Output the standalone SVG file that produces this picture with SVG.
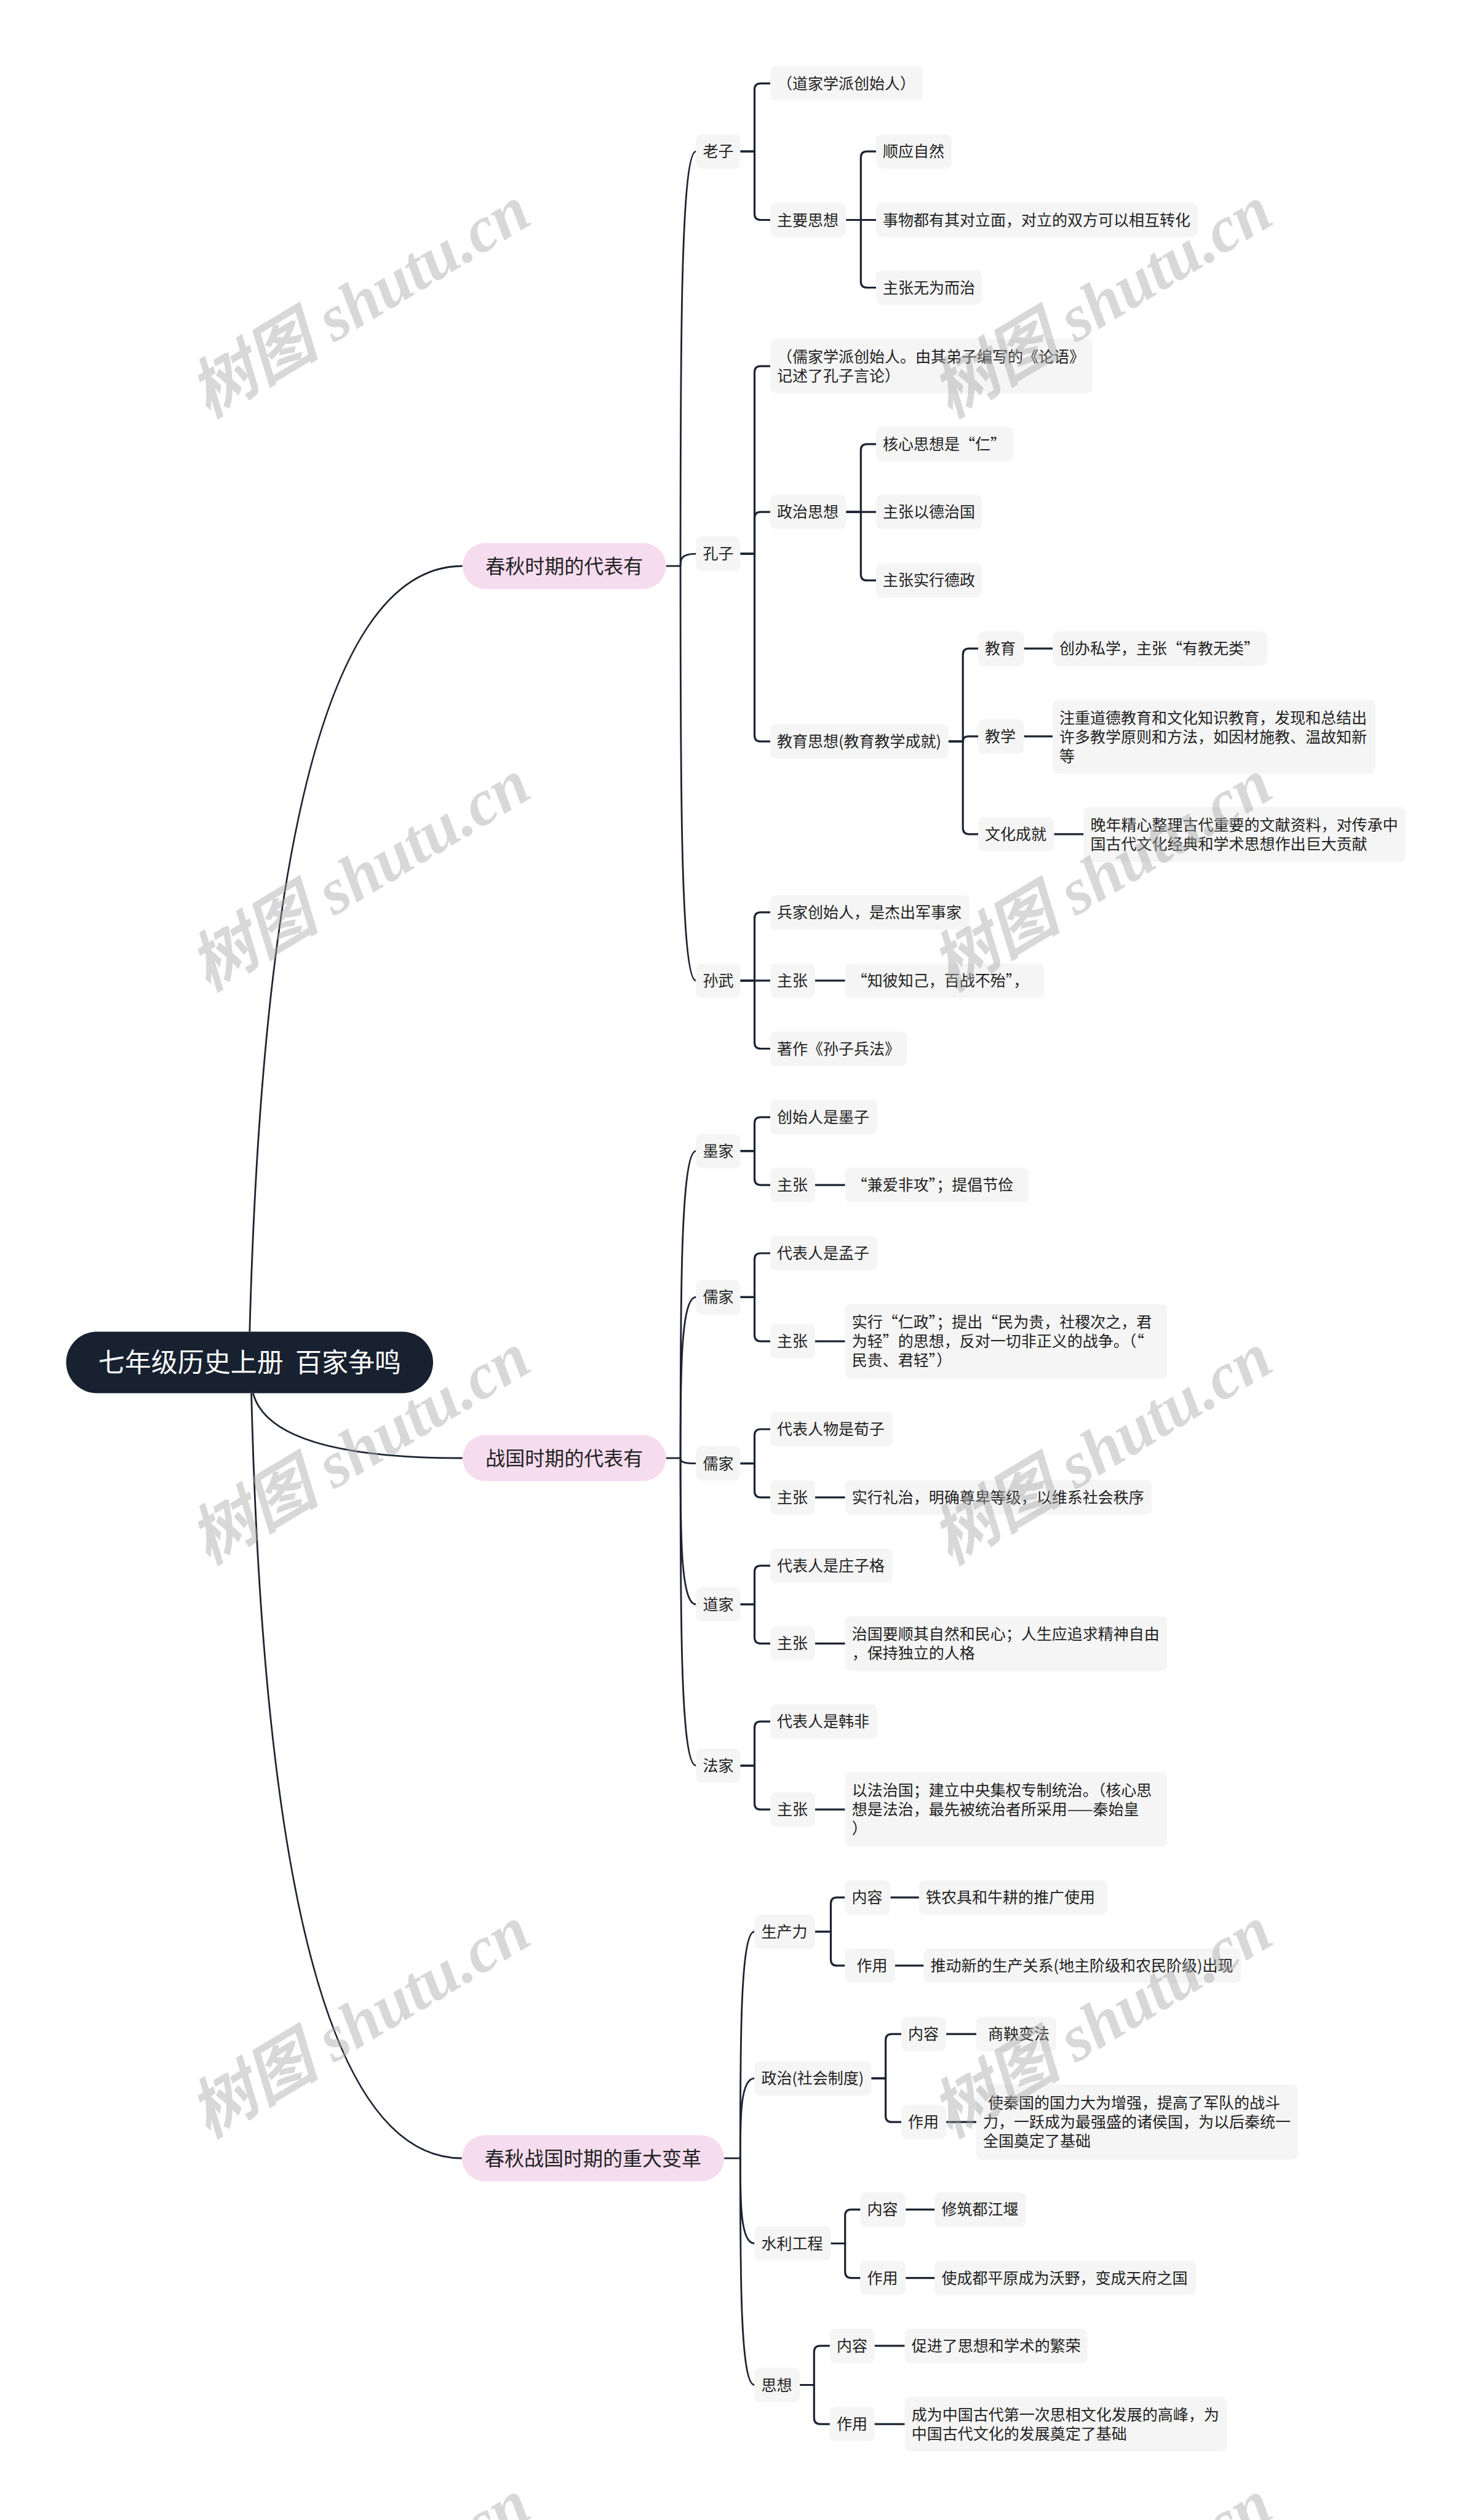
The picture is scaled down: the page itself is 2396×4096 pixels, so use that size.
<svg xmlns="http://www.w3.org/2000/svg" width="2396" height="4096" viewBox="0 0 2396 4096">
<style>
.nd{fill:#f5f5f5}
.tx{font-family:"Noto Sans CJK SC","Noto Sans",sans-serif;font-size:25px;fill:#222}
.l1{fill:#f6dcef}
.t1{font-family:"Noto Sans CJK SC",sans-serif;font-size:32px;fill:#222;text-anchor:middle}
.rt{fill:#18212f}
.t0{font-family:"Noto Sans CJK SC",sans-serif;font-size:43px;fill:#fff;text-anchor:middle}
.cn{fill:none;stroke:#1c2331;stroke-width:3.2}
.cv{fill:none;stroke:#1c2331;stroke-width:2.8}
.wm{font-family:"Liberation Serif","Noto Sans CJK SC",serif;font-style:italic;font-weight:bold;font-size:106px;fill:#a8a8a8;fill-opacity:0.45;text-anchor:middle}
</style>
<rect x="0" y="0" width="2396" height="4096" fill="#fff"/>
<g id="connectors">
<path class="cv" d="M405.8,2164.5 Q439.5,920 751.7,920"/>
<path class="cv" d="M411.4,2264.6 Q439.5,2370 751.7,2370"/>
<path class="cv" d="M408.6,2264.6 Q439.5,3508 750.8,3508"/>
<path class="cv" d="M1082.7,920H1106.1"/>
<path class="cv" d="M1106.1,920 C1106.1,583.2 1106.1,246.2 1131.4,246.2"/>
<path class="cv" d="M1106.1,920 C1106.1,910.1 1106.1,900.1 1131.4,900.1"/>
<path class="cv" d="M1106.1,920 C1106.1,1257 1106.1,1593.9 1131.4,1593.9"/>
<path class="cv" d="M1082.7,2370H1106.1"/>
<path class="cv" d="M1106.1,2370 C1106.1,2120.5 1106.1,1870.9 1131.4,1870.9"/>
<path class="cv" d="M1106.1,2370 C1106.1,2239.2 1106.1,2108.4 1131.4,2108.4"/>
<path class="cv" d="M1106.1,2370 C1106.1,2374.3 1106.1,2378.6 1131.4,2378.6"/>
<path class="cv" d="M1106.1,2370 C1106.1,2488.9 1106.1,2607.7 1131.4,2607.7"/>
<path class="cv" d="M1106.1,2370 C1106.1,2619.9 1106.1,2869.8 1131.4,2869.8"/>
<path class="cv" d="M1177.2,3508H1203.3"/>
<path class="cv" d="M1203.3,3508 C1203.3,3323.9 1203.3,3139.7 1226.4,3139.7"/>
<path class="cv" d="M1203.3,3508 C1203.3,3443.1 1203.3,3378.2 1226.4,3378.2"/>
<path class="cv" d="M1203.3,3508 C1203.3,3577.3 1203.3,3646.5 1226.4,3646.5"/>
<path class="cv" d="M1203.3,3508 C1203.3,3692.3 1203.3,3876.5 1226.4,3876.5"/>

<path class="cn" d="M1203.3,246.2H1226.5V145.6Q1226.5,135.6 1236.5,135.6H1252"/>
<path class="cn" d="M1203.3,246.2H1226.5V347.5Q1226.5,357.5 1236.5,357.5H1252"/>
<path class="cn" d="M1375.3,357.5H1399.3V256.2Q1399.3,246.2 1409.3,246.2H1424.1"/>
<path class="cn" d="M1375.3,357.5H1424.1"/>
<path class="cn" d="M1375.3,357.5H1399.3V457.5Q1399.3,467.5 1409.3,467.5H1424.1"/>

<path class="cn" d="M1203.3,900.1H1226.5V605.1Q1226.5,595.1 1236.5,595.1H1252"/>
<path class="cn" d="M1203.3,900.1H1226.5V842.2Q1226.5,832.2 1236.5,832.2H1252"/>
<path class="cn" d="M1203.3,900.1H1226.5V1195.2Q1226.5,1205.2 1236.5,1205.2H1252"/>
<path class="cn" d="M1375.3,832.2H1399.3V731.8Q1399.3,721.8 1409.3,721.8H1424.1"/>
<path class="cn" d="M1375.3,832.2H1424.1"/>
<path class="cn" d="M1375.3,832.2H1399.3V933.4Q1399.3,943.4 1409.3,943.4H1424.1"/>
<path class="cn" d="M1541.8,1205.2H1565.2V1064.2Q1565.2,1054.2 1575.2,1054.2H1590.1"/>
<path class="cn" d="M1541.8,1205.2H1565.2Q1565.2,1196.8 1573.6,1196.8H1590.1"/>
<path class="cn" d="M1541.8,1205.2H1565.2V1345.8Q1565.2,1355.8 1575.2,1355.8H1590.1"/>
<path class="cn" d="M1664.5,1054.2H1711.1"/>
<path class="cn" d="M1664.5,1196.8H1711.1"/>
<path class="cn" d="M1713.3,1355.8H1761.4"/>

<path class="cn" d="M1203.3,1593.9H1226.5V1492.9Q1226.5,1482.9 1236.5,1482.9H1252"/>
<path class="cn" d="M1203.3,1593.9H1252"/>
<path class="cn" d="M1203.3,1593.9H1226.5V1694.5Q1226.5,1704.5 1236.5,1704.5H1252"/>
<path class="cn" d="M1324.9,1593.9H1373.7"/>

<path class="cn" d="M1203.3,1870.9H1226.5V1825.8Q1226.5,1815.8 1236.5,1815.8H1252"/>
<path class="cn" d="M1203.3,1870.9H1226.5V1916.1Q1226.5,1926.1 1236.5,1926.1H1252"/>
<path class="cn" d="M1324.9,1926.1H1373.7"/>
<path class="cn" d="M1203.3,2108.4H1226.5V2047Q1226.5,2037 1236.5,2037H1252"/>
<path class="cn" d="M1203.3,2108.4H1226.5V2170.1Q1226.5,2180.1 1236.5,2180.1H1252"/>
<path class="cn" d="M1324.9,2180.1H1373.7"/>
<path class="cn" d="M1203.3,2378.6H1226.5V2333Q1226.5,2323 1236.5,2323H1252"/>
<path class="cn" d="M1203.3,2378.6H1226.5V2423.8Q1226.5,2433.8 1236.5,2433.8H1252"/>
<path class="cn" d="M1324.9,2433.8H1373.7"/>
<path class="cn" d="M1203.3,2607.7H1226.5V2554.8Q1226.5,2544.8 1236.5,2544.8H1252"/>
<path class="cn" d="M1203.3,2607.7H1226.5V2661.3Q1226.5,2671.3 1236.5,2671.3H1252"/>
<path class="cn" d="M1324.9,2671.3H1373.7"/>
<path class="cn" d="M1203.3,2869.8H1226.5V2808.2Q1226.5,2798.2 1236.5,2798.2H1252"/>
<path class="cn" d="M1203.3,2869.8H1226.5V2931.2Q1226.5,2941.2 1236.5,2941.2H1252"/>
<path class="cn" d="M1324.9,2941.2H1373.7"/>

<path class="cn" d="M1324.9,3139.7H1350.5V3094.2Q1350.5,3084.2 1360.5,3084.2H1373.5"/>
<path class="cn" d="M1324.9,3139.7H1350.5V3184.9Q1350.5,3194.9 1360.5,3194.9H1373.5"/>
<path class="cn" d="M1447.4,3084.2H1493.9"/>
<path class="cn" d="M1454.9,3194.9H1501.6"/>
<path class="cn" d="M1416.3,3378.2H1439.6V3316.2Q1439.6,3306.2 1449.6,3306.2H1465.1"/>
<path class="cn" d="M1416.3,3378.2H1439.6V3439.2Q1439.6,3449.2 1449.6,3449.2H1465.1"/>
<path class="cn" d="M1538.1,3306.2H1587"/>
<path class="cn" d="M1538.1,3449.2H1587"/>
<path class="cn" d="M1350.5,3646.5H1373.7V3601.3Q1373.7,3591.3 1383.7,3591.3H1398.6"/>
<path class="cn" d="M1350.5,3646.5H1373.7V3692.6Q1373.7,3702.6 1383.7,3702.6H1398.6"/>
<path class="cn" d="M1472.2,3591.3H1519.4"/>
<path class="cn" d="M1472.2,3702.6H1519.4"/>
<path class="cn" d="M1300.1,3876.5H1323.3V3822.9Q1323.3,3812.9 1333.3,3812.9H1348.9"/>
<path class="cn" d="M1300.1,3876.5H1323.3V3930.1Q1323.3,3940.1 1333.3,3940.1H1348.9"/>
<path class="cn" d="M1421.5,3812.9H1470.7"/>
<path class="cn" d="M1421.5,3940.1H1470.7"/>
</g>

<g id="root"><rect class="rt" x="107.5" y="2164.5" width="596.5" height="100" rx="50"/><text class="t0" x="405.8" y="2230" xml:space="preserve">七年级历史上册  百家争鸣</text></g>

<g id="n-chunqiu"><rect class="l1" x="751.7" y="882.6" width="331" height="74.8" rx="37.4"/><text class="t1" x="917.2" y="931.5">春秋时期的代表有</text></g>
<g id="n-zhanguo"><rect class="l1" x="751.7" y="2332.6" width="331" height="74.8" rx="37.4"/><text class="t1" x="917.2" y="2381.5">战国时期的代表有</text></g>
<g id="n-biange"><rect class="l1" x="750.8" y="3470.6" width="426.4" height="74.8" rx="37.4"/><text class="t1" x="964" y="3519.5">春秋战国时期的重大变革</text></g>

<g id="n-laozi"><rect class="nd" x="1131.4" y="218.2" width="71.9" height="56" rx="9"/><text class="tx" x="1142.4" y="255.2">老子</text></g>
<g id="n-a1"><rect class="nd" x="1252" y="107.6" width="248.1" height="56" rx="9"/><text class="tx" x="1263" y="144.6">（道家学派创始人）</text></g>
<g id="n-a2"><rect class="nd" x="1252" y="329.5" width="123.3" height="56" rx="9"/><text class="tx" x="1263" y="366.5">主要思想</text></g>
<g id="n-a2a"><rect class="nd" x="1424.1" y="218.2" width="122.5" height="56" rx="9"/><text class="tx" x="1435.1" y="255.2">顺应自然</text></g>
<g id="n-a2b"><rect class="nd" x="1424.1" y="329.5" width="523.3" height="56" rx="9"/><text class="tx" x="1435.1" y="366.5">事物都有其对立面，对立的双方可以相互转化</text></g>
<g id="n-a2c"><rect class="nd" x="1424.1" y="439.5" width="172.1" height="56" rx="9"/><text class="tx" x="1435.1" y="476.5">主张无为而治</text></g>

<g id="n-kongzi"><rect class="nd" x="1131.4" y="872.1" width="71.9" height="56" rx="9"/><text class="tx" x="1142.4" y="909.1">孔子</text></g>
<g id="n-b1"><rect class="nd" x="1252" y="550.7" width="523.4" height="88.8" rx="9"/><text class="tx" x="1263" y="588.6">（儒家学派创始人。由其弟子编写的《论语》</text><text class="tx" x="1263" y="619.6">记述了孔子言论）</text></g>
<g id="n-b2"><rect class="nd" x="1252" y="804.2" width="123.3" height="56" rx="9"/><text class="tx" x="1263" y="841.2">政治思想</text></g>
<g id="n-b2a"><rect class="nd" x="1424.1" y="693.8" width="222.4" height="56" rx="9"/><text class="tx" x="1435.1" y="730.8">核心思想是“仁”</text></g>
<g id="n-b2b"><rect class="nd" x="1424.1" y="804.2" width="172.1" height="56" rx="9"/><text class="tx" x="1435.1" y="841.2">主张以德治国</text></g>
<g id="n-b2c"><rect class="nd" x="1424.1" y="915.4" width="172.1" height="56" rx="9"/><text class="tx" x="1435.1" y="952.4">主张实行德政</text></g>
<g id="n-b3"><rect class="nd" x="1252" y="1177.2" width="289.8" height="56" rx="9"/><text class="tx" x="1263" y="1214.2">教育思想(教育教学成就)</text></g>
<g id="n-b3a"><rect class="nd" x="1590.1" y="1026.2" width="74.4" height="56" rx="9"/><text class="tx" x="1601.1" y="1063.2">教育</text></g>
<g id="n-b3a1"><rect class="nd" x="1711.1" y="1026.2" width="348.7" height="56" rx="9"/><text class="tx" x="1722.1" y="1063.2">创办私学，主张“有教无类”</text></g>
<g id="n-b3b"><rect class="nd" x="1590.1" y="1168.8" width="74.4" height="56" rx="9"/><text class="tx" x="1601.1" y="1205.8">教学</text></g>
<g id="n-b3b1"><rect class="nd" x="1711.1" y="1136.7" width="524.5" height="121" rx="9"/><text class="tx" x="1722.1" y="1176">注重道德教育和文化知识教育，发现和总结出</text><text class="tx" x="1722.1" y="1207">许多教学原则和方法，如因材施教、温故知新</text><text class="tx" x="1722.1" y="1238">等</text></g>
<g id="n-b3c"><rect class="nd" x="1590.1" y="1327.8" width="123.2" height="56" rx="9"/><text class="tx" x="1601.1" y="1364.8">文化成就</text></g>
<g id="n-b3c1"><rect class="nd" x="1761.4" y="1311.5" width="523.3" height="89.4" rx="9"/><text class="tx" x="1772.4" y="1349.7">晚年精心整理古代重要的文献资料，对传承中</text><text class="tx" x="1772.4" y="1380.7">国古代文化经典和学术思想作出巨大贡献</text></g>

<g id="n-sunwu"><rect class="nd" x="1131.4" y="1565.9" width="71.9" height="56" rx="9"/><text class="tx" x="1142.4" y="1602.9">孙武</text></g>
<g id="n-c1"><rect class="nd" x="1252" y="1454.9" width="323.5" height="56" rx="9"/><text class="tx" x="1263" y="1491.9">兵家创始人，是杰出军事家</text></g>
<g id="n-c2"><rect class="nd" x="1252" y="1565.9" width="72.9" height="56" rx="9"/><text class="tx" x="1263" y="1602.9">主张</text></g>
<g id="n-c2a"><rect class="nd" x="1373.7" y="1565.9" width="323.3" height="56" rx="9"/><text class="tx" x="1384.7" y="1602.9">“知彼知己，百战不殆”，</text></g>
<g id="n-c3"><rect class="nd" x="1252" y="1676.5" width="222.5" height="56" rx="9"/><text class="tx" x="1263" y="1713.5">著作《孙子兵法》</text></g>

<g id="n-mojia"><rect class="nd" x="1131.4" y="1842.9" width="71.9" height="56" rx="9"/><text class="tx" x="1142.4" y="1879.9">墨家</text></g>
<g id="n-d1"><rect class="nd" x="1252" y="1787.8" width="173.9" height="56" rx="9"/><text class="tx" x="1263" y="1824.8">创始人是墨子</text></g>
<g id="n-d2"><rect class="nd" x="1252" y="1898.1" width="72.9" height="56" rx="9"/><text class="tx" x="1263" y="1935.1">主张</text></g>
<g id="n-d2a"><rect class="nd" x="1373.7" y="1898.1" width="298.5" height="56" rx="9"/><text class="tx" x="1384.7" y="1935.1">“兼爱非攻”；提倡节俭</text></g>

<g id="n-rujia1"><rect class="nd" x="1131.4" y="2080.4" width="71.9" height="56" rx="9"/><text class="tx" x="1142.4" y="2117.4">儒家</text></g>
<g id="n-e1"><rect class="nd" x="1252" y="2009" width="173.9" height="56" rx="9"/><text class="tx" x="1263" y="2046">代表人是孟子</text></g>
<g id="n-e2"><rect class="nd" x="1252" y="2152.1" width="72.9" height="56" rx="9"/><text class="tx" x="1263" y="2189.1">主张</text></g>
<g id="n-e2a"><rect class="nd" x="1373.7" y="2119.5" width="523.4" height="121.5" rx="9"/><text class="tx" x="1384.7" y="2158.2">实行“仁政”；提出“民为贵，社稷次之，君</text><text class="tx" x="1384.7" y="2189.2">为轻”的思想，反对一切非正义的战争。（“</text><text class="tx" x="1384.7" y="2220.2">民贵、君轻”）</text></g>

<g id="n-rujia2"><rect class="nd" x="1131.4" y="2350.6" width="71.9" height="56" rx="9"/><text class="tx" x="1142.4" y="2387.6">儒家</text></g>
<g id="n-f1"><rect class="nd" x="1252" y="2295" width="199.1" height="56" rx="9"/><text class="tx" x="1263" y="2332">代表人物是荀子</text></g>
<g id="n-f2"><rect class="nd" x="1252" y="2405.8" width="72.9" height="56" rx="9"/><text class="tx" x="1263" y="2442.8">主张</text></g>
<g id="n-f2a"><rect class="nd" x="1373.7" y="2405.8" width="498.5" height="56" rx="9"/><text class="tx" x="1384.7" y="2442.8">实行礼治，明确尊卑等级，以维系社会秩序</text></g>

<g id="n-daojia"><rect class="nd" x="1131.4" y="2579.7" width="71.9" height="56" rx="9"/><text class="tx" x="1142.4" y="2616.7">道家</text></g>
<g id="n-g1"><rect class="nd" x="1252" y="2516.8" width="199.1" height="56" rx="9"/><text class="tx" x="1263" y="2553.8">代表人是庄子格</text></g>
<g id="n-g2"><rect class="nd" x="1252" y="2643.3" width="72.9" height="56" rx="9"/><text class="tx" x="1263" y="2680.3">主张</text></g>
<g id="n-g2a"><rect class="nd" x="1373.7" y="2626.7" width="523.4" height="89.5" rx="9"/><text class="tx" x="1384.7" y="2664.9">治国要顺其自然和民心；人生应追求精神自由</text><text class="tx" x="1384.7" y="2695.9">，保持独立的人格</text></g>

<g id="n-fajia"><rect class="nd" x="1131.4" y="2841.8" width="71.9" height="56" rx="9"/><text class="tx" x="1142.4" y="2878.8">法家</text></g>
<g id="n-h1"><rect class="nd" x="1252" y="2770.2" width="173.9" height="56" rx="9"/><text class="tx" x="1263" y="2807.2">代表人是韩非</text></g>
<g id="n-h2"><rect class="nd" x="1252" y="2913.2" width="72.9" height="56" rx="9"/><text class="tx" x="1263" y="2950.2">主张</text></g>
<g id="n-h2a"><rect class="nd" x="1373.7" y="2880.5" width="523.4" height="121.5" rx="9"/><text class="tx" x="1384.7" y="2919.2">以法治国；建立中央集权专制统治。（核心思</text><text class="tx" x="1384.7" y="2950.2">想是法治，最先被统治者所采用——秦始皇</text><text class="tx" x="1384.7" y="2981.2">）</text></g>

<g id="n-shengchanli"><rect class="nd" x="1226.4" y="3111.7" width="98.5" height="56" rx="9"/><text class="tx" x="1237.4" y="3148.7">生产力</text></g>
<g id="n-i1"><rect class="nd" x="1373.5" y="3056.2" width="73.9" height="56" rx="9"/><text class="tx" x="1384.5" y="3093.2">内容</text></g>
<g id="n-i1a"><rect class="nd" x="1493.9" y="3056.2" width="306.3" height="56" rx="9"/><text class="tx" x="1504.9" y="3093.2">铁农具和牛耕的推广使用</text></g>
<g id="n-i2"><rect class="nd" x="1373.5" y="3166.9" width="81.4" height="56" rx="9"/><text class="tx" x="1392.5" y="3203.9">作用</text></g>
<g id="n-i2a"><rect class="nd" x="1501.6" y="3166.9" width="515.7" height="56" rx="9"/><text class="tx" x="1512.6" y="3203.9">推动新的生产关系(地主阶级和农民阶级)出现</text></g>

<g id="n-zhengzhi"><rect class="nd" x="1226.4" y="3350.2" width="189.9" height="56" rx="9"/><text class="tx" x="1237.4" y="3387.2">政治(社会制度)</text></g>
<g id="n-j1"><rect class="nd" x="1465.1" y="3278.2" width="73" height="56" rx="9"/><text class="tx" x="1476.1" y="3315.2">内容</text></g>
<g id="n-j1a"><rect class="nd" x="1587" y="3278.2" width="130.2" height="56" rx="9"/><text class="tx" x="1606" y="3315.2">商鞅变法</text></g>
<g id="n-j2"><rect class="nd" x="1465.1" y="3421.2" width="73" height="56" rx="9"/><text class="tx" x="1476.1" y="3458.2">作用</text></g>
<g id="n-j2a"><rect class="nd" x="1587" y="3388.1" width="523.3" height="121.9" rx="9"/><text class="tx" x="1606" y="3427">使秦国的国力大为增强，提高了军队的战斗</text><text class="tx" x="1598" y="3458">力，一跃成为最强盛的诸侯国，为以后秦统一</text><text class="tx" x="1598" y="3489">全国奠定了基础</text></g>

<g id="n-shuili"><rect class="nd" x="1226.4" y="3618.5" width="124.1" height="56" rx="9"/><text class="tx" x="1237.4" y="3655.5">水利工程</text></g>
<g id="n-k1"><rect class="nd" x="1398.6" y="3563.3" width="73.6" height="56" rx="9"/><text class="tx" x="1409.6" y="3600.3">内容</text></g>
<g id="n-k1a"><rect class="nd" x="1519.4" y="3563.3" width="148.9" height="56" rx="9"/><text class="tx" x="1530.4" y="3600.3">修筑都江堰</text></g>
<g id="n-k2"><rect class="nd" x="1398.6" y="3674.6" width="73.6" height="56" rx="9"/><text class="tx" x="1409.6" y="3711.6">作用</text></g>
<g id="n-k2a"><rect class="nd" x="1519.4" y="3674.6" width="424.2" height="56" rx="9"/><text class="tx" x="1530.4" y="3711.6">使成都平原成为沃野，变成天府之国</text></g>

<g id="n-sixiang"><rect class="nd" x="1226.4" y="3848.5" width="73.7" height="56" rx="9"/><text class="tx" x="1237.4" y="3885.5">思想</text></g>
<g id="n-l1"><rect class="nd" x="1348.9" y="3784.9" width="72.6" height="56" rx="9"/><text class="tx" x="1359.9" y="3821.9">内容</text></g>
<g id="n-l1a"><rect class="nd" x="1470.7" y="3784.9" width="296.9" height="56" rx="9"/><text class="tx" x="1481.7" y="3821.9">促进了思想和学术的繁荣</text></g>
<g id="n-l2"><rect class="nd" x="1348.9" y="3912.1" width="72.6" height="56" rx="9"/><text class="tx" x="1359.9" y="3949.1">作用</text></g>
<g id="n-l2a"><rect class="nd" x="1470.7" y="3895.9" width="523.8" height="88.8" rx="9"/><text class="tx" x="1481.7" y="3933.8">成为中国古代第一次思相文化发展的高峰，为</text><text class="tx" x="1481.7" y="3964.8">中国古代文化的发展奠定了基础</text></g>

<g id="watermarks">
<text class="wm" transform="translate(585,490) rotate(-31)" x="0" y="36">树图 shutu.cn</text>
<text class="wm" transform="translate(1791,490) rotate(-31)" x="0" y="36">树图 shutu.cn</text>
<text class="wm" transform="translate(585,1422) rotate(-31)" x="0" y="36">树图 shutu.cn</text>
<text class="wm" transform="translate(1791,1422) rotate(-31)" x="0" y="36">树图 shutu.cn</text>
<text class="wm" transform="translate(585,2354) rotate(-31)" x="0" y="36">树图 shutu.cn</text>
<text class="wm" transform="translate(1791,2354) rotate(-31)" x="0" y="36">树图 shutu.cn</text>
<text class="wm" transform="translate(585,3286) rotate(-31)" x="0" y="36">树图 shutu.cn</text>
<text class="wm" transform="translate(1791,3286) rotate(-31)" x="0" y="36">树图 shutu.cn</text>
<text class="wm" transform="translate(585,4218) rotate(-31)" x="0" y="36">树图 shutu.cn</text>
<text class="wm" transform="translate(1791,4218) rotate(-31)" x="0" y="36">树图 shutu.cn</text>
</g>
</svg>
